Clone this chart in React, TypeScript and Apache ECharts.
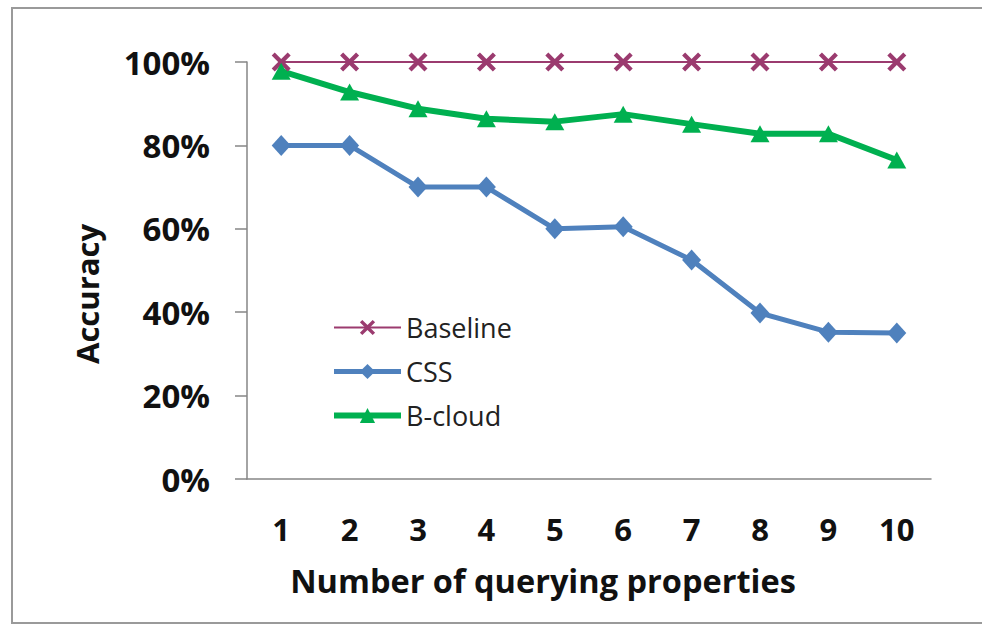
import React, { useEffect, useRef } from "react";
import * as echarts from "echarts";

const categories = ["1", "2", "3", "4", "5", "6", "7", "8", "9", "10"];
const baseline = [1, 1, 1, 1, 1, 1, 1, 1, 1, 1];
const css = [0.8, 0.8, 0.7, 0.7, 0.6, 0.605, 0.525, 0.398, 0.352, 0.35];
const bcloud = [0.978, 0.928, 0.888, 0.864, 0.857, 0.875, 0.851, 0.828, 0.828, 0.765];
const yTicks = [0, 0.2, 0.4, 0.6, 0.8, 1];
const xTitle = "Number of querying properties";
const yTitle = "Accuracy";

const FONT = "'Open Sans', 'DejaVu Sans', sans-serif";
const X_PATH =
  "path://M0,1.6L1.6,0L5,3.4L8.4,0L10,1.6L6.6,5L10,8.4L8.4,10L5,6.6L1.6,10L0,8.4L3.4,5Z";

export default function App() {
  const ref = useRef<HTMLDivElement>(null);
  useEffect(() => {
    if (!ref.current) return;
    const chart = echarts.init(ref.current, null, { renderer: "svg" });
    chart.setOption({
      animation: false,
      backgroundColor: "#ffffff",
      grid: { left: 247, right: 51, top: 62, bottom: 146 },
      graphic: [
        {
          type: "rect",
          shape: { x: 12, y: 8, width: 990, height: 615 },
          style: { fill: "none", stroke: "#9a9a9a", lineWidth: 2 },
          silent: true,
        },
        {
          type: "text",
          x: 87,
          y: 294,
          rotation: Math.PI / 2,
          style: {
            text: yTitle,
            font: `bold 31px ${FONT}`,
            fill: "#111",
            align: "center",
            verticalAlign: "middle",
          },
        },
        {
          type: "text",
          x: 543,
          y: 580,
          style: {
            text: xTitle,
            font: `bold 32.5px ${FONT}`,
            fill: "#111",
            align: "center",
            verticalAlign: "middle",
          },
        },
      ],
      legend: {
        orient: "vertical",
        left: 326,
        top: 309,
        itemWidth: 67,
        itemHeight: 19,
        itemGap: 17,
        lineStyle: { width: "inherit" },
        textStyle: { fontFamily: FONT, fontSize: 27, color: "#222" },
        data: ["Baseline", "CSS", "B-cloud"],
      },
      xAxis: {
        type: "category",
        data: categories,
        boundaryGap: true,
        axisLine: { lineStyle: { color: "#868686", width: 1.5 } },
        axisTick: { inside: true, length: 9, lineStyle: { color: "#868686", width: 1.5 } },
        axisLabel: {
          margin: 34,
          fontFamily: FONT,
          fontSize: 31,
          fontWeight: "bold",
          color: "#111",
        },
        splitLine: { show: false },
      },
      yAxis: {
        type: "value",
        min: yTicks[0],
        max: yTicks[yTicks.length - 1],
        interval: 0.2,
        axisLine: { show: true, lineStyle: { color: "#868686", width: 1.5 } },
        axisTick: { show: true, length: 12, lineStyle: { color: "#868686", width: 1.5 } },
        axisLabel: {
          margin: 37,
          fontFamily: FONT,
          fontSize: 33,
          fontWeight: "bold",
          color: "#111",
          formatter: (v: number) => `${Math.round(v * 100)}%`,
        },
        splitLine: { show: false },
      },
      series: [
        {
          name: "Baseline",
          type: "line",
          data: baseline,
          symbol: X_PATH,
          symbolSize: 19,
          lineStyle: { color: "#9b3b6f", width: 2 },
          itemStyle: { color: "#9b3b6f" },
        },
        {
          name: "CSS",
          type: "line",
          data: css,
          symbol: "diamond",
          symbolSize: [19, 21],
          lineStyle: { color: "#4f81bd", width: 5 },
          itemStyle: { color: "#4f81bd" },
        },
        {
          name: "B-cloud",
          type: "line",
          data: bcloud,
          symbol: "triangle",
          symbolSize: [19, 17],
          lineStyle: { color: "#00b050", width: 6 },
          itemStyle: { color: "#00b050" },
        },
      ],
    });
    return () => chart.dispose();
  }, []);
  return (
    <div
      ref={ref}
      style={{ position: "absolute", left: 0, top: 0, width: 982, height: 625 }}
    />
  );
}
